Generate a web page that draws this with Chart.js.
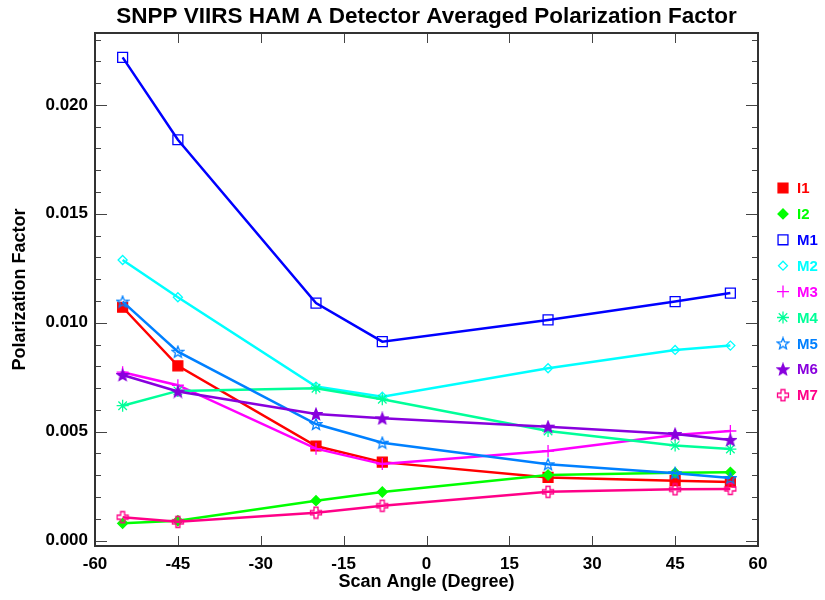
<!DOCTYPE html>
<html>
<head>
<meta charset="utf-8">
<script src="https://cdn.jsdelivr.net/npm/chart.js@4/dist/chart.umd.min.js"></script>
<style>
  body { margin: 0; background: #fff; }
  #wrap { width: 825px; height: 600px; }
</style>
</head>
<body>
<div id="wrap"><canvas id="myChart" width="825" height="600"></canvas></div>
<script>
'use strict';

// scan angles (degrees)
let angles = [-55, -45, -20, -8, 22, 45, 55];

let bands = ['I1', 'I2', 'M1', 'M2', 'M3', 'M4', 'M5', 'M6', 'M7'];

let i1 = [0.01071, 0.00802, 0.00434, 0.00360, 0.00290, 0.00275, 0.00269];
let i2 = [0.00079, 0.00091, 0.00183, 0.00223, 0.00301, 0.00311, 0.00313];
let m1 = [0.02218, 0.01840, 0.01090, 0.00913, 0.01013, 0.01097, 0.01136];
let m2 = [0.01288, 0.01117, 0.00707, 0.00660, 0.00791, 0.00875, 0.00895];
let m3 = [0.00773, 0.00713, 0.00422, 0.00351, 0.00411, 0.00485, 0.00503];
let m4 = [0.00619, 0.00687, 0.00699, 0.00649, 0.00503, 0.00436, 0.00420];
let m5 = [0.01097, 0.00867, 0.00535, 0.00449, 0.00350, 0.00309, 0.00287];
let m6 = [0.00760, 0.00684, 0.00581, 0.00561, 0.00523, 0.00489, 0.00462];
let m7 = [0.00107, 0.00086, 0.00128, 0.00160, 0.00224, 0.00235, 0.00237];

let xTicks = [-60, -45, -30, -15, 0, 15, 30, 45, 60];
let yTicks = [0, 0.005, 0.010, 0.015, 0.020];

let titleText = 'SNPP VIIRS HAM A Detector Averaged Polarization Factor';

let colors = ['#ff0000', '#00ff00', '#0000ff', '#00ffff', '#ff00ff', '#00ff99', '#0080ff', '#8800dd', '#ff0088'];
let allValues = [i1, i2, m1, m2, m3, m4, m5, m6, m7];

// little canvases for the marker shapes Chart.js does not have
function starImg(color, filled) {
    let c = document.createElement('canvas');
    c.width = 14; c.height = 14;
    let g = c.getContext('2d');
    g.beginPath();
    for (let k = 0; k < 10; k++) {
        let r = k % 2 === 0 ? 6 : 2.6;
        let a = -Math.PI / 2 + k * Math.PI / 5;
        let px = 7 + r * Math.cos(a), py = 7.5 + r * Math.sin(a);
        if (k === 0) g.moveTo(px, py); else g.lineTo(px, py);
    }
    g.closePath();
    if (filled) { g.fillStyle = color; g.fill(); }
    g.strokeStyle = color; g.lineWidth = 1.3; g.stroke();
    return c;
}

function openCrossImg(color) {
    let c = document.createElement('canvas');
    c.width = 14; c.height = 14;
    let g = c.getContext('2d');
    let a = 2, b = 5.5, o = 7;
    g.beginPath();
    g.moveTo(o - a, o - b); g.lineTo(o + a, o - b); g.lineTo(o + a, o - a);
    g.lineTo(o + b, o - a); g.lineTo(o + b, o + a); g.lineTo(o + a, o + a);
    g.lineTo(o + a, o + b); g.lineTo(o - a, o + b); g.lineTo(o - a, o + a);
    g.lineTo(o - b, o + a); g.lineTo(o - b, o - a); g.lineTo(o - a, o - a);
    g.closePath();
    g.strokeStyle = color; g.lineWidth = 1.3; g.stroke();
    return c;
}

let markers = [
    { style: 'rect', radius: 7, fill: true },
    { style: 'rectRot', radius: 5, fill: true },
    { style: 'rect', radius: 7, fill: false },
    { style: 'rectRot', radius: 4.5, fill: false },
    { style: 'cross', radius: 6, fill: false },
    { style: 'star', radius: 6, fill: false },
    { style: starImg(colors[6], false), radius: 6, fill: false },
    { style: starImg(colors[7], true), radius: 6, fill: true },
    { style: openCrossImg(colors[8]), radius: 6, fill: false }
];

let datasets = [];
for (let i = 0; i < bands.length; i++) {
    datasets.push({
        label: bands[i],
        data: angles.map((a, j) => ({ x: a, y: allValues[i][j] })),
        borderColor: colors[i],
        borderWidth: 2.5,
        pointStyle: markers[i].style,
        pointRadius: markers[i].radius,
        pointBorderWidth: 1.3,
        pointBorderColor: colors[i],
        pointBackgroundColor: markers[i].fill ? colors[i] : 'rgba(0,0,0,0)',
        tension: 0,
        order: -i
    });
}

// title, box, inward ticks and the band legend on the right
let frame = {
    id: 'frame',
    afterDraw(chart) {
        let ctx = chart.ctx;
        let a = chart.chartArea;
        let x = chart.scales.x, y = chart.scales.y;
        ctx.save();
        ctx.strokeStyle = '#444';
        ctx.lineWidth = 1;
        ctx.beginPath();
        for (let v of xTicks) {
            let px = Math.round(x.getPixelForValue(v)) + 0.5;
            ctx.moveTo(px, a.bottom); ctx.lineTo(px, a.bottom - 10);
            ctx.moveTo(px, a.top); ctx.lineTo(px, a.top + 10);
        }
        for (let k = 0; k <= 23; k++) {
            let py = Math.round(y.getPixelForValue(k / 1000)) + 0.5;
            let len = k % 5 === 0 ? 12 : 6;
            ctx.moveTo(a.left, py); ctx.lineTo(a.left + len, py);
            ctx.moveTo(a.right, py); ctx.lineTo(a.right - len, py);
        }
        ctx.stroke();
        ctx.strokeStyle = '#333';
        ctx.lineWidth = 2;
        ctx.strokeRect(a.left, a.top, a.right - a.left, a.bottom - a.top);

        // title centred over the plot box
        ctx.fillStyle = '#000';
        ctx.font = 'bold 22.5px "Liberation Sans", Arial, sans-serif';
        ctx.textAlign = 'center';
        ctx.textBaseline = 'middle';
        ctx.fillText(titleText, (a.left + a.right) / 2, 17);

        // legend
        ctx.font = 'bold 15px "Liberation Sans", Arial, sans-serif';
        ctx.textAlign = 'left';
        for (let i = 0; i < bands.length; i++) {
            let ly = 188 + i * 25.9;
            ctx.fillStyle = markers[i].fill ? colors[i] : 'rgba(0,0,0,0)';
            ctx.strokeStyle = colors[i];
            ctx.lineWidth = 1.3;
            Chart.helpers.drawPoint(ctx, {
                pointStyle: markers[i].style,
                radius: markers[i].radius,
                rotation: 0,
                borderWidth: 1.3
            }, 783, ly);
            ctx.fillStyle = colors[i];
            ctx.fillText(bands[i], 797, ly + 1);
        }
        ctx.restore();
    }
};

Chart.defaults.font.family = '"Liberation Sans", Arial, sans-serif';
Chart.defaults.font.weight = 'bold';
Chart.defaults.color = '#000';

let ctx = document.getElementById('myChart').getContext('2d');
let myChart = new Chart(ctx, {
    type: 'line',
    data: { datasets: datasets },
    options: {
        responsive: false,
        animation: false,
        layout: { padding: { left: 0, right: 67, top: 33, bottom: 0 } },
        plugins: {
            legend: { display: false },
            tooltip: { enabled: false },
            title: { display: false }
        },
        scales: {
            x: {
                type: 'linear',
                min: -60,
                max: 60,
                afterBuildTicks: s => { s.ticks = xTicks.map(v => ({ value: v })); },
                afterFit: s => { s.height = 54; },
                grid: { display: false, drawTicks: false },
                border: { display: false },
                ticks: { font: { size: 17, weight: 'bold' }, padding: 8, maxRotation: 0 },
                title: {
                    display: true,
                    text: 'Scan Angle (Degree)',
                    font: { size: 18, weight: 'bold' },
                    padding: { top: 0, bottom: 7 }
                }
            },
            y: {
                min: -0.00025,
                max: 0.0233,
                afterBuildTicks: s => { s.ticks = yTicks.map(v => ({ value: v })); },
                afterFit: s => { s.width = 95; },
                grid: { display: false, drawTicks: false },
                border: { display: false },
                ticks: {
                    font: { size: 17, weight: 'bold' },
                    padding: 7,
                    callback: v => v.toFixed(3)
                },
                title: {
                    display: true,
                    text: 'Polarization Factor',
                    font: { size: 18, weight: 'bold' },
                    padding: { top: 9, bottom: 0 }
                }
            }
        }
    },
    plugins: [frame]
});
</script>
</body>
</html>
